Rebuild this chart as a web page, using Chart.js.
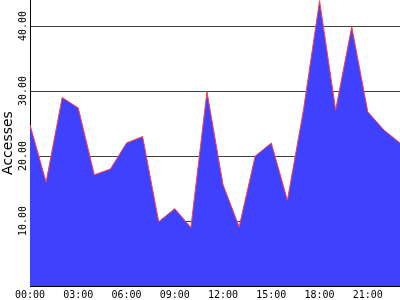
<!DOCTYPE html>
<html>
<head>
<meta charset="utf-8">
<script src="https://cdn.jsdelivr.net/npm/chart.js@4"></script>
<style>
  body { margin: 0; background: #fff; }
  canvas { display: block; }
</style>
</head>
<body>
<canvas id="myChart" width="400" height="300"></canvas>
<script>
// Hours of the day (one point per hour)
const hourLabels = [
  "00:00", "01:00", "02:00", "03:00", "04:00", "05:00", "06:00", "07:00",
  "08:00", "09:00", "10:00", "11:00", "12:00", "13:00", "14:00", "15:00",
  "16:00", "17:00", "18:00", "19:00", "20:00", "21:00", "22:00", "23:00",
];

// Accesses per hour
const accesses = [
  24.8, 16.0, 29.0, 27.4, 17.1, 18.0, 22.0, 23.0,
  9.9, 11.9, 9.0, 29.9, 15.6, 9.1, 20.0, 22.0,
  13.2, 27.1, 43.9, 27.1, 39.9, 26.8, 24.0, 22.0,
];

// y-axis gridline / tick values
const yTicks = [10, 20, 30, 40];
const yMax = 44;

const ctx = document.getElementById("myChart").getContext("2d");

new Chart(ctx, {
  type: "line",
  data: {
    labels: hourLabels,
    datasets: [
      {
        label: "Accesses",
        data: accesses,
        fill: "origin",
        backgroundColor: "#4040ff",
        borderColor: "#ff4040",
        borderWidth: 1,
        tension: 0,
        pointRadius: 0,
      },
    ],
  },
  options: {
    responsive: false,
    animation: false,
    devicePixelRatio: 1,
    layout: { padding: 0 },
    plugins: {
      legend: { display: false },
      tooltip: { enabled: false },
    },
    scales: {
      x: {
        offset: false,
        grid: { display: false, drawTicks: false },
        border: { display: true, color: "#000", width: 1 },
        ticks: {
          autoSkip: false,
          maxRotation: 0,
          minRotation: 0,
          padding: 3,
          color: "#000",
          font: { family: "DejaVu Sans Mono", size: 10 },
          callback: (val, i) => (i % 3 === 0 ? hourLabels[i] : ""),
        },
        afterFit: (scale) => {
          scale.height = 14;
          scale.paddingLeft = 0;
          scale.paddingRight = 0;
        },
      },
      y: {
        min: 0,
        max: yMax,
        afterBuildTicks: (scale) => {
          scale.ticks = yTicks.map((v) => ({ value: v }));
        },
        grid: { color: "#404040", lineWidth: 1, drawTicks: false },
        border: { display: true, color: "#000", width: 1 },
        ticks: {
          minRotation: 90,
          maxRotation: 90,
          crossAlign: "center",
          padding: -8,
          color: "#000",
          font: { family: "DejaVu Sans Mono", size: 10 },
          callback: (v) => Number(v).toFixed(2),
        },
        title: {
          display: true,
          text: "Accesses",
          color: "#000",
          padding: 0,
          font: { family: "DejaVu Sans", size: 14 },
        },
        afterFit: (scale) => {
          scale.width = 30;
          scale.paddingTop = 0;
          scale.paddingBottom = 0;
        },
      },
    },
  },
});
</script>
</body>
</html>
